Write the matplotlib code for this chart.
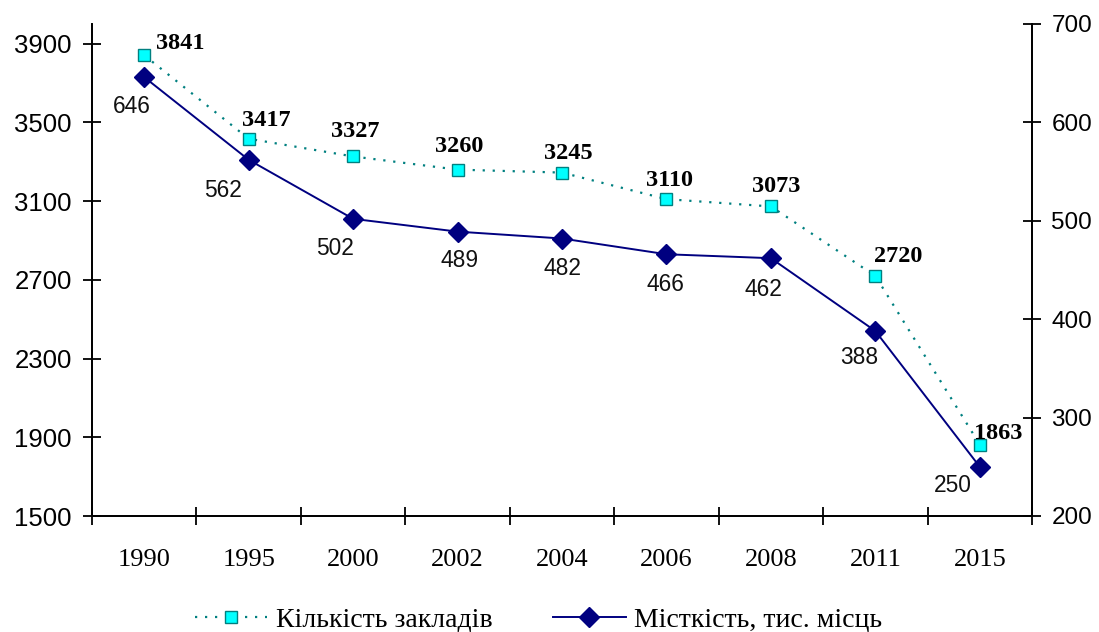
import numpy as np
import matplotlib.pyplot as plt

# Data
years = ["1990", "1995", "2000", "2002", "2004", "2006", "2008", "2011", "2015"]
kilkist = [3841, 3417, 3327, 3260, 3245, 3110, 3073, 2720, 1863]
mistkist = [646, 562, 502, 489, 482, 466, 462, 388, 250]

# label offsets in pixels (dx, dy) relative to markers
off_k = [(36, 14), (18, 21), (2, 27), (2, 26), (6, 22), (3, 21), (5, 22), (23, 22), (18, 14)]
off_m = [(-12, -27), (-26, -28), (-18, -27), (2, -26), (1, -27), (-1, -28), (-7, -29), (-16, -24), (-27, -16)]

serif = "Liberation Serif"
sans = "Liberation Sans"
px = 72 / 100  # pixels -> points

fig = plt.figure(figsize=(10.99, 6.32), dpi=100)
ax = fig.add_axes([92/1099, 116/632, 940/1099, 492/632])
ax2 = ax.twinx()

x = np.arange(len(years))

l1, = ax.plot(x, kilkist, linestyle=(0, (1, 3.5)), color="#008080", linewidth=1.6,
              marker="s", markersize=8, markerfacecolor="#00FFFF",
              markeredgecolor="#008080", markeredgewidth=1.0,
              label="Кількість закладів")
l2, = ax2.plot(x, mistkist, "-", color="#000080", linewidth=1.4,
               marker="D", markersize=10, markerfacecolor="#000080",
               markeredgecolor="#000080", label="Місткість, тис. місць")

for i in range(len(x)):
    ax.annotate(str(kilkist[i]), (x[i], kilkist[i]),
                xytext=(off_k[i][0]*px, off_k[i][1]*px),
                textcoords="offset points", ha="center", va="center_baseline",
                fontsize=17.5, fontweight="bold", family=serif, color="black")
    ax2.annotate(str(mistkist[i]), (x[i], mistkist[i]),
                 xytext=(off_m[i][0]*px, off_m[i][1]*px),
                 textcoords="offset points", ha="center", va="center_baseline",
                 fontsize=16.4, family=sans, color="#111111")

ax.set_xlim(-0.5, len(years) - 0.5)
ax.set_ylim(1500, 4000)
ax.set_yticks(np.arange(1500, 4000, 400))
ax2.set_ylim(200, 700)
ax2.set_yticks(np.arange(200, 701, 100))

# category labels centred, ticks on boundaries
ax.set_xticks(np.arange(-0.5, len(years), 1.0))
ax.set_xticklabels([])
ax.set_xticks(x, minor=True)
ax.set_xticklabels(years, minor=True, fontsize=19, family=serif)
ax.tick_params(axis="x", which="minor", length=0, pad=24)
ax.tick_params(axis="x", which="major", direction="inout", length=13, width=1.3)

ax.tick_params(axis="y", direction="inout", length=13, width=1.3, labelsize=18.5, pad=8)
ax2.tick_params(axis="y", direction="inout", length=13, width=1.3, labelsize=17.5, pad=7.5)
for lab in ax.get_yticklabels() + ax2.get_yticklabels():
    lab.set_family(sans)

for a in (ax, ax2):
    a.spines["top"].set_visible(False)
    for s in ("left", "right", "bottom"):
        a.spines[s].set_linewidth(1.3)

leg = fig.legend(handles=[l1, l2], loc="center", bbox_to_anchor=(0.49, 0.019),
                 ncol=2, frameon=False, handlelength=2.6, columnspacing=2.2,
                 handletextpad=0.3, prop={"family": serif, "size": 20})

plt.savefig("out.png", dpi=100)
